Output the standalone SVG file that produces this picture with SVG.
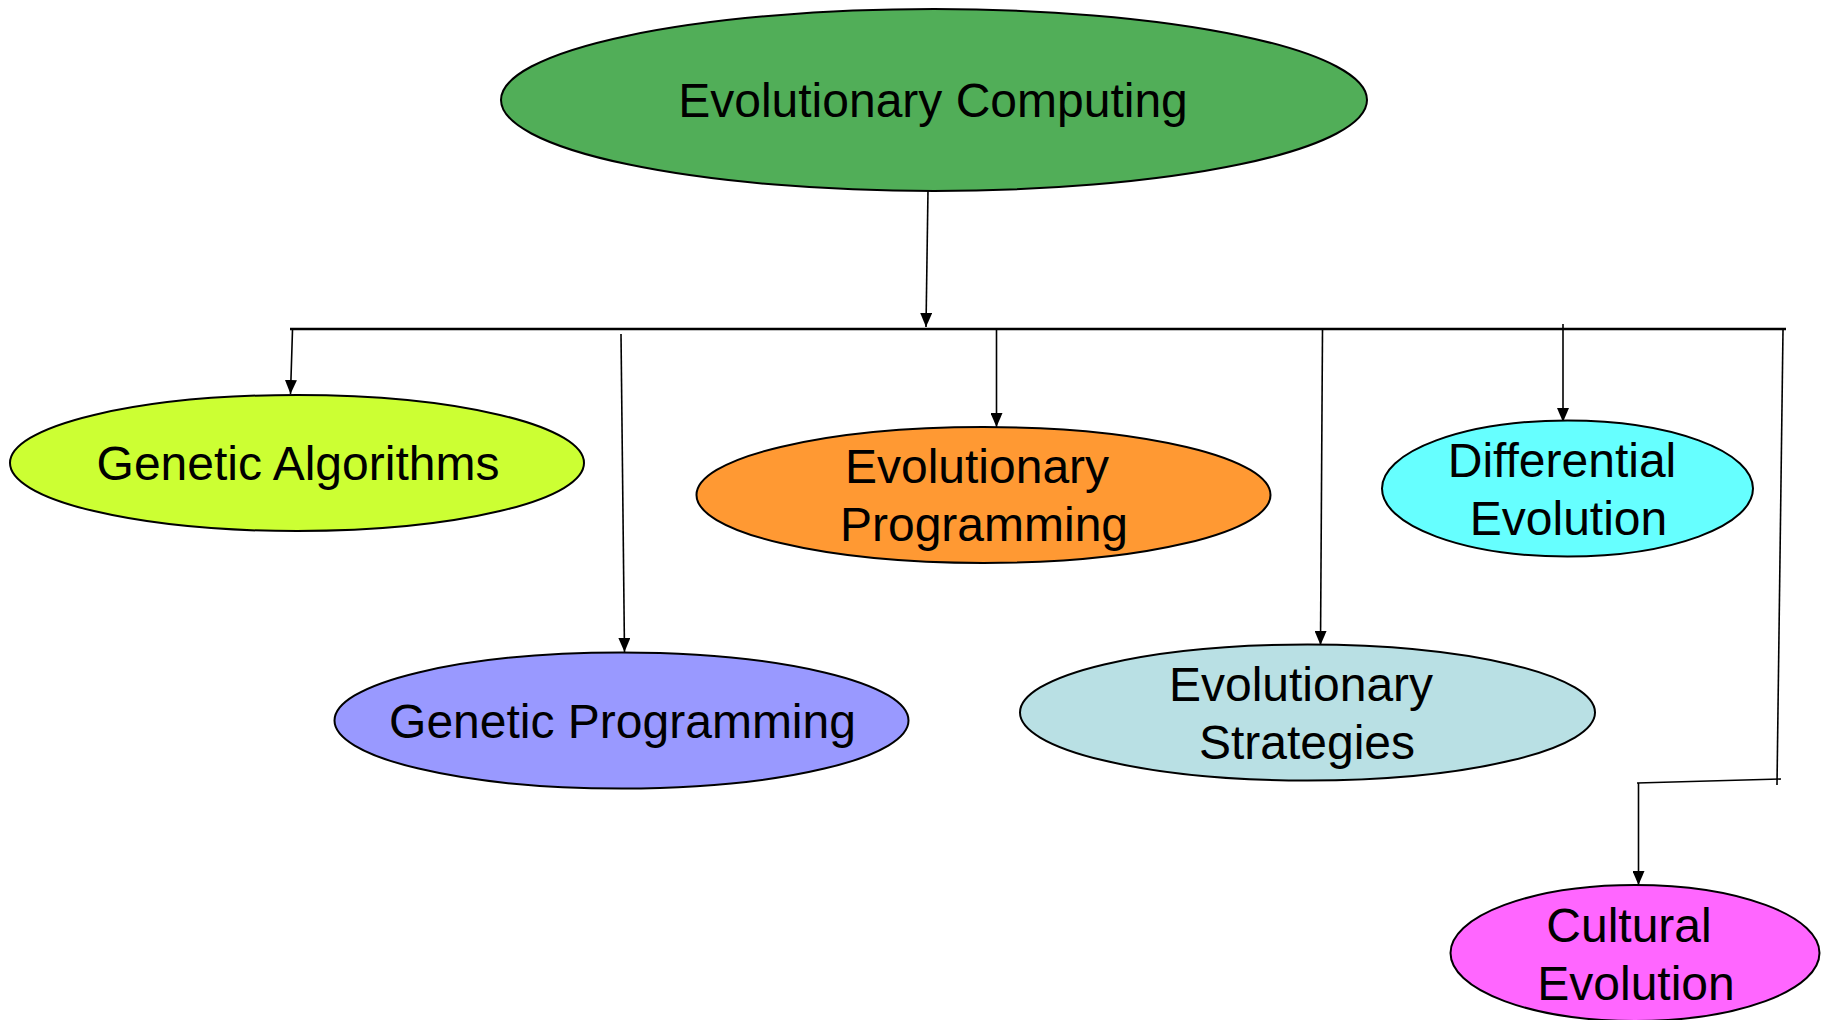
<svg xmlns="http://www.w3.org/2000/svg" width="1821" height="1020" viewBox="0 0 1821 1020">
  <style>
    .node { stroke: #000; stroke-width: 2; }
    .label { font-family: "Liberation Sans", Arial, sans-serif; font-size: 48px; fill: #000; text-anchor: middle; }
    .wire { fill: none; stroke: #000; stroke-width: 1.6; }
    .bus { fill: none; stroke: #000; stroke-width: 2.4; }
  </style>
  <defs>
    <marker id="arrow" markerUnits="userSpaceOnUse" markerWidth="14" markerHeight="12" refX="14" refY="6" orient="auto">
      <path d="M0,0 L14,6 L0,12 z" fill="#000"/>
    </marker>
  </defs>

  <rect width="1821" height="1020" fill="#fff"/>

  <!-- connectors -->
  <g id="connectors">
    <line class="wire" x1="928" y1="190" x2="926" y2="327" marker-end="url(#arrow)"/>
    <line class="bus" x1="290" y1="329" x2="1786" y2="329"/>
    <line class="wire" x1="292.5" y1="330" x2="290.5" y2="394" marker-end="url(#arrow)"/>
    <line class="wire" x1="621" y1="334" x2="624.5" y2="652" marker-end="url(#arrow)"/>
    <line class="wire" x1="996.5" y1="330" x2="996.5" y2="427" marker-end="url(#arrow)"/>
    <line class="wire" x1="1322.5" y1="330" x2="1320.5" y2="645" marker-end="url(#arrow)"/>
    <line class="wire" x1="1563" y1="324" x2="1563" y2="422" marker-end="url(#arrow)"/>
    <line class="wire" x1="1783" y1="330" x2="1777" y2="785"/>
    <line class="wire" x1="1781" y1="779" x2="1637" y2="783"/>
    <line class="wire" x1="1638.5" y1="783" x2="1638.5" y2="885" marker-end="url(#arrow)"/>
  </g>

  <g id="evolutionary-computing">
    <ellipse class="node" cx="934" cy="100" rx="433" ry="91" fill="#51AE58"/>
    <text class="label" x="933" y="117">Evolutionary Computing</text>
  </g>

  <g id="genetic-algorithms">
    <ellipse class="node" cx="297" cy="463" rx="287" ry="68" fill="#CCFF33"/>
    <text class="label" x="298" y="480">Genetic Algorithms</text>
  </g>

  <g id="evolutionary-programming">
    <ellipse class="node" cx="983.5" cy="495" rx="287" ry="68" fill="#FF9933"/>
    <text class="label" x="977" y="483">Evolutionary</text>
    <text class="label" x="984" y="541">Programming</text>
  </g>

  <g id="differential-evolution">
    <ellipse class="node" cx="1567.5" cy="488.5" rx="185.5" ry="68" fill="#66FFFF"/>
    <text class="label" x="1562" y="477">Differential</text>
    <text class="label" x="1568.5" y="535">Evolution</text>
  </g>

  <g id="genetic-programming">
    <ellipse class="node" cx="621.5" cy="720.5" rx="287" ry="68" fill="#9999FF"/>
    <text class="label" x="622.5" y="738">Genetic Programming</text>
  </g>

  <g id="evolutionary-strategies">
    <ellipse class="node" cx="1307.5" cy="712.5" rx="287.5" ry="68" fill="#B9E0E4"/>
    <text class="label" x="1301" y="701">Evolutionary</text>
    <text class="label" x="1307" y="759">Strategies</text>
  </g>

  <g id="cultural-evolution">
    <ellipse class="node" cx="1635" cy="953" rx="184.5" ry="68" fill="#FF66FF"/>
    <text class="label" x="1629" y="942">Cultural</text>
    <text class="label" x="1636" y="1000">Evolution</text>
  </g>
</svg>
